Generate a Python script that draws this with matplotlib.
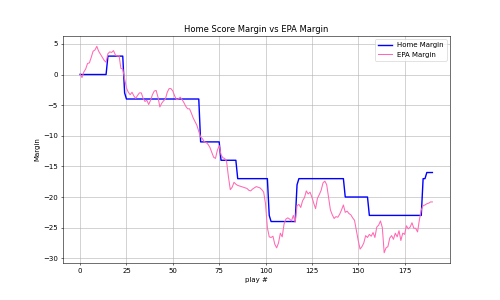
import matplotlib
matplotlib.use("Agg")
import matplotlib.pyplot as plt

# home score margin, one value per play
home_margin = ([0] * 15 + [3] * 9 + [-3] + [-4] * 40 + [-11] * 11 + [-14] * 9
               + [-17] * 17 + [-23] + [-24] * 14 + [-18] + [-17] * 25
               + [-20] * 13 + [-23] * 29 + [-17] * 2 + [-16] * 4)

# EPA margin, one value per play
epa_margin = [
    0.1, -0.5, 0.4, 0.9, 1.8, 1.9, 2.8, 3.8, 4.0, 4.6,
    3.8, 3.3, 2.8, 2.3, 2.0, 3.4, 3.7, 3.6, 3.9, 3.2,
    3.0, 3.1, 1.0, 0.9, -0.7, -2.2, -2.9, -3.3, -2.9, -3.5,
    -3.9, -3.4, -3.0, -3.0, -3.9, -4.4, -4.2, -4.9, -4.2, -3.3,
    -2.7, -2.6, -3.7, -5.3, -4.7, -4.3, -4.0, -2.9, -2.3, -2.3,
    -2.7, -3.5, -4.1, -4.0, -3.7, -4.1, -4.6, -5.2, -5.6, -5.6,
    -6.3, -7.1, -7.7, -8.3, -9.3, -10.2, -10.5, -11.0, -11.1, -11.4,
    -11.9, -12.7, -13.5, -13.7, -12.4, -11.6, -13.1, -13.6, -13.7, -14.2,
    -16.7, -18.8, -18.4, -17.6, -17.9, -18.1, -18.2, -18.3, -18.4, -18.5,
    -18.6, -18.9, -19.0, -18.7, -18.5, -18.3, -18.4, -18.5, -18.8, -19.2,
    -21.1, -25.0, -26.5, -26.6, -26.4, -27.7, -28.3, -27.5, -25.9, -26.5,
    -24.4, -23.6, -23.4, -23.6, -23.9, -23.0, -24.1, -21.4, -21.2, -21.7,
    -20.6, -20.1, -19.0, -19.5, -19.2, -20.0, -21.0, -21.9, -20.2, -19.6,
    -18.9, -17.7, -17.4, -18.0, -20.1, -22.1, -22.9, -23.5, -23.2, -23.3,
    -22.8, -22.1, -21.3, -22.5, -22.3, -22.7, -22.9, -23.4, -23.8, -25.5,
    -27.1, -28.5, -28.1, -27.5, -26.3, -26.6, -26.1, -26.4, -25.8, -26.6,
    -24.9, -24.6, -23.9, -25.0, -29.1, -28.3, -28.1, -26.7, -26.3, -26.9,
    -25.9, -26.5, -25.5, -27.1, -25.9, -26.1, -24.7, -25.2, -24.9, -24.2,
    -25.1, -25.1, -25.7, -23.7, -22.1, -21.4, -21.3, -21.1, -21.0, -20.8,
    -20.8,
]

plays = list(range(len(home_margin)))

fig = plt.figure(figsize=(10, 6), dpi=50)
plt.subplots_adjust(bottom=0.123)

plt.plot(plays, home_margin, color="blue", linewidth=2, label="Home Margin")
plt.plot(plays, epa_margin, color="hotpink", linewidth=1.5, label="EPA Margin")

plt.title("Home Score Margin vs EPA Margin")
plt.xlabel("play #")
plt.ylabel("Margin")
plt.grid(True)
plt.legend(loc="upper right")

plt.savefig("out.png", dpi=50)
